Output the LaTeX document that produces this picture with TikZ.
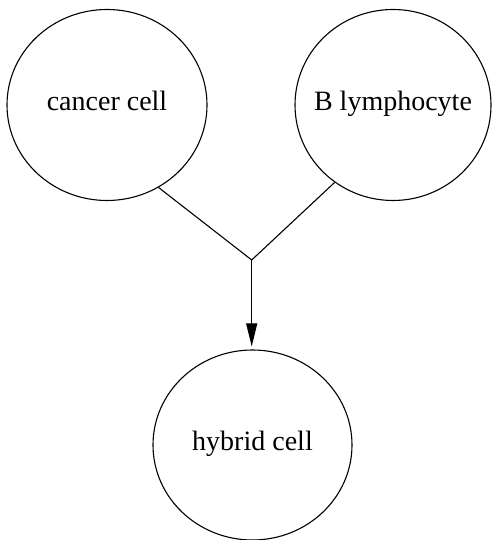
\documentclass[tikz,border=0pt]{standalone}
\usepackage{fontspec}
\setmainfont{Liberation Serif}
\usetikzlibrary{shapes.geometric,arrows.meta}
\newcommand{\celltext}[1]{\makebox[0pt]{#1}}
\tikzset{
  cell/.style={draw, ellipse, line width=1.1pt, inner sep=0pt,
    font=\fontsize{28}{32}\selectfont, text height=11pt, text depth=0pt},
  link/.style={line width=1.1pt},
}
\begin{document}
\begin{tikzpicture}[x=1pt,y=1pt]
  \useasboundingbox (0,0) rectangle (491,540);
  \node[cell, minimum width=200pt, minimum height=191pt] (cancer) at (107,435) {\celltext{cancer cell}};
  \node[cell, minimum width=196pt, minimum height=191pt] (blym) at (393,435) {\celltext{B lymphocyte}};
  \node[cell, minimum width=199pt, minimum height=190pt] (hybrid) at (252.5,95) {\celltext{hybrid cell}};
  \coordinate (join) at (251.7,280);
  \draw[link] (cancer.-58.6) -- (join) -- (blym.233.1);
  \draw[link, -{Triangle[length=23pt,width=11pt]}, shorten >=3pt] (join) -- (join |- hybrid.north);
\end{tikzpicture}
\end{document}
